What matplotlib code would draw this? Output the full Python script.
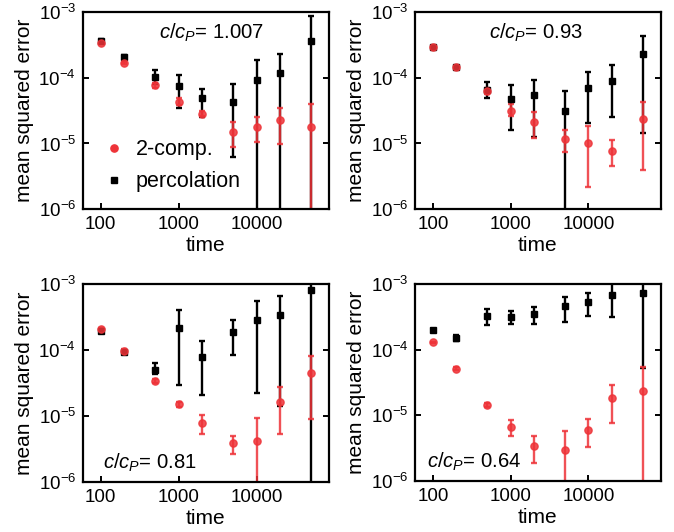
import numpy as np
import matplotlib
matplotlib.use('Agg')
import matplotlib.pyplot as plt
from matplotlib.lines import Line2D
from matplotlib.ticker import FixedLocator, FixedFormatter, NullLocator

plt.rcParams['font.family'] = ['Liberation Sans', 'DejaVu Sans']
plt.rcParams['mathtext.fontset'] = 'custom'
plt.rcParams['mathtext.rm'] = 'Liberation Sans'
plt.rcParams['mathtext.it'] = 'Liberation Sans:italic'

times = [100, 200, 500, 1000, 2000, 5000, 10000, 20000, 50000]
ratios = ['1.007', '0.93', '0.81', '0.64']

LOW = 1e-9    # error bar going below zero
HIGH = 2e-3   # error bar going past the top

# percolation: value, lower end, upper end
perc_y = [
    [3.66e-4, 2.09e-4, 1.03e-4, 7.4e-5, 4.9e-5, 4.36e-5, 9.4e-5, 1.18e-4, 3.66e-4],
    [2.93e-4, 1.44e-4, 6.6e-5, 4.7e-5, 5.4e-5, 3.07e-5, 7.1e-5, 9.1e-5, 2.29e-4],
    [1.97e-4, 9.25e-5, 5.0e-5, 2.19e-4, 7.9e-5, 1.86e-4, 2.84e-4, 3.42e-4, 8.1e-4],
    [2.0e-4, 1.51e-4, 3.3e-4, 3.11e-4, 3.46e-4, 4.6e-4, 5.3e-4, 6.7e-4, 7.3e-4],
]
perc_lo = [
    [3.5e-4, 1.95e-4, 8.0e-5, 3.5e-5, 2.5e-5, 6.3e-6, LOW, LOW, LOW],
    [2.8e-4, 1.37e-4, 4.96e-5, 1.58e-5, 1.26e-5, LOW, 2.02e-5, 2.55e-5, 1.45e-5],
    [1.9e-4, 8.8e-5, 4.3e-5, 2.91e-5, 2.07e-5, 8.3e-5, 2.23e-5, 1.41e-5, LOW],
    [1.92e-4, 1.38e-4, 2.41e-4, 2.46e-4, 2.49e-4, 2.64e-4, 3.26e-4, 3.11e-4, 5.3e-5],
]
perc_hi = [
    [3.85e-4, 2.25e-4, 1.34e-4, 1.09e-4, 6.8e-5, 8.0e-5, 1.86e-4, 2.35e-4, 8.8e-4],
    [3.05e-4, 1.52e-4, 8.7e-5, 7.9e-5, 9.4e-5, 6.3e-5, 1.22e-4, 1.56e-4, 4.4e-4],
    [2.05e-4, 9.7e-5, 6.4e-5, 4.1e-4, 1.37e-4, 2.87e-4, 5.45e-4, 6.65e-4, HIGH],
    [2.08e-4, 1.65e-4, 4.2e-4, 3.84e-4, 4.4e-4, 6.4e-4, 7.2e-4, HIGH, HIGH],
]

# 2-comp.: value, lower end, upper end
comp_y = [
    [3.4e-4, 1.71e-4, 7.7e-5, 4.36e-5, 2.86e-5, 1.5e-5, 1.8e-5, 2.24e-5, 1.8e-5],
    [2.93e-4, 1.44e-4, 6.3e-5, 3.14e-5, 2.14e-5, 1.19e-5, 1.02e-5, 7.8e-6, 2.32e-5],
    [2.09e-4, 9.7e-5, 3.39e-5, 1.5e-5, 7.8e-6, 3.9e-6, 4.25e-6, 1.66e-5, 4.54e-5],
    [1.29e-4, 5.16e-5, 1.45e-5, 6.7e-6, 3.4e-6, 2.92e-6, 5.96e-6, 1.83e-5, 2.33e-5],
]
comp_lo = [
    [3.3e-4, 1.65e-4, 7.0e-5, 3.8e-5, 2.6e-5, 8.9e-6, 1.06e-5, 9.8e-6, LOW],
    [2.85e-4, 1.38e-4, 5.6e-5, 2.6e-5, 1.23e-5, 7.5e-6, 2.14e-6, 4.6e-6, 4.0e-6],
    [2.03e-4, 9.2e-5, 3.2e-5, 1.35e-5, 5.25e-6, 2.7e-6, LOW, 5.25e-6, 8.95e-6],
    [1.25e-4, 4.9e-5, 1.35e-5, 4.83e-6, 1.85e-6, LOW, 3.29e-6, 7.6e-6, LOW],
]
comp_hi = [
    [3.5e-4, 1.77e-4, 8.4e-5, 5.0e-5, 3.1e-5, 2.09e-5, 2.55e-5, 3.5e-5, 4.0e-5],
    [3.0e-4, 1.5e-4, 6.9e-5, 3.98e-5, 3.03e-5, 1.63e-5, 1.86e-5, 1.11e-5, 4.3e-5],
    [2.15e-4, 1.02e-4, 3.6e-5, 1.65e-5, 1.03e-5, 5.0e-6, 9.4e-6, 2.78e-5, 8.2e-5],
    [1.33e-4, 5.4e-5, 1.55e-5, 8.55e-6, 4.83e-6, 5.75e-6, 8.65e-6, 2.85e-5, 5.4e-5],
]

RED = '#ee3338'

fig = plt.figure(figsize=(6.74, 5.32), dpi=100)
rects = [
    [0.123, 0.607, 0.365, 0.370],
    [0.616, 0.607, 0.364, 0.370],
    [0.123, 0.094, 0.365, 0.372],
    [0.616, 0.096, 0.364, 0.370],
]
text_pos = [(0.31, 0.893), (0.30, 0.893), (0.08, 0.096), (0.05, 0.096)]

for i in range(4):
    ax = fig.add_axes(rects[i])
    ax.set_xscale('log')
    ax.set_yscale('log')

    y = np.array(perc_y[i])
    err = [y - np.array(perc_lo[i]), np.array(perc_hi[i]) - y]
    ax.errorbar(times, y, yerr=err, fmt='s', color='black', ms=4.5,
                elinewidth=1.7, capsize=2.5, capthick=1.7)

    y = np.array(comp_y[i])
    err = [y - np.array(comp_lo[i]), np.array(comp_hi[i]) - y]
    ax.errorbar(times, y, yerr=err, fmt='o', color=RED, ms=5.2,
                elinewidth=1.7, capsize=2.5, capthick=1.7, alpha=0.85)

    ax.set_xlim(59, 85000)
    ax.set_ylim(1e-6, 1e-3)
    ax.xaxis.set_major_locator(FixedLocator([100, 1000, 10000]))
    ax.xaxis.set_major_formatter(FixedFormatter(['100', '1000', '10000']))
    ax.xaxis.set_minor_locator(NullLocator())
    ax.yaxis.set_minor_locator(NullLocator())
    ax.tick_params(direction='in', length=4.5, width=1.4, labelsize=13.5,
                   right=True, pad=5)
    for s in ax.spines.values():
        s.set_linewidth(1.6)

    ax.set_xlabel('time', fontsize=15, labelpad=2)
    ax.set_ylabel('mean squared error', fontsize=15, labelpad=3)
    ax.text(text_pos[i][0], text_pos[i][1], r'$c/c_P$= ' + ratios[i],
            transform=ax.transAxes, fontsize=14.6, va='center', ha='left')

    if i == 0:
        handles = [
            Line2D([], [], ls='none', marker='o', color=RED, ms=5.2),
            Line2D([], [], ls='none', marker='s', color='black', ms=4.5),
        ]
        ax.legend(handles, ['2-comp.', 'percolation'], loc='lower left',
                  bbox_to_anchor=(0.04, 0.01), frameon=False, fontsize=15.5,
                  handlelength=0.6, handletextpad=0.7, labelspacing=0.5,
                  borderpad=0.2)

fig.savefig('out.png', dpi=100)
